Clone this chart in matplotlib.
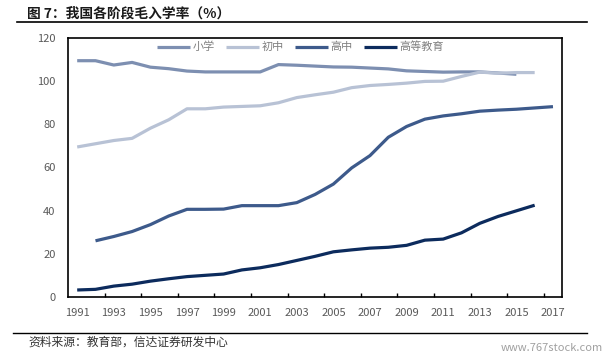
import matplotlib.pyplot as plt

plt.rcParams['font.family'] = ['Noto Sans CJK SC', 'DejaVu Sans']

years = list(range(1991, 2018))

primary = [109.5, 109.5, 107.5, 108.7, 106.5, 105.8, 104.7, 104.3, 104.3, 104.3, 104.3,
           107.7, 107.4, 107.0, 106.6, 106.5, 106.1, 105.7, 104.8, 104.5, 104.2, 104.3,
           104.3, 103.8, 103.2]
junior = [69.5, 71.0, 72.5, 73.5, 78.2, 82.1, 87.2, 87.2, 88.0, 88.3, 88.6, 90.0, 92.4,
          93.7, 94.9, 97.0, 98.0, 98.5, 99.1, 99.9, 100.0, 102.2, 104.2, 103.7, 104.0, 104.0]
senior = [None, 26.0, 28.0, 30.3, 33.5, 37.5, 40.6, 40.6, 40.7, 42.3, 42.3, 42.3, 43.7,
          47.5, 52.3, 59.8, 65.5, 74.0, 79.0, 82.4, 83.9, 84.9, 86.1, 86.6, 87.0, 87.6, 88.2]
higher = [3.2, 3.5, 5.0, 5.9, 7.3, 8.4, 9.4, 10.0, 10.6, 12.5, 13.5, 15.0, 16.9, 18.8,
          20.9, 21.8, 22.6, 23.0, 23.9, 26.3, 26.8, 29.7, 34.1, 37.3, 39.9, 42.5]

series = [('小学', primary, '#7d8fb1'),
          ('初中', junior, '#b8c2d5'),
          ('高中', senior, '#3d5a8b'),
          ('高等教育', higher, '#0c2b5d')]

fig = plt.figure(figsize=(6.13, 3.59), dpi=100)
ax = fig.add_axes([0.111, 0.173, 0.806, 0.721])

for name, vals, color in series:
    xs = [i for i, v in enumerate(vals) if v is not None]
    ys = [v for v in vals if v is not None]
    ax.plot(xs, ys, color=color, linewidth=2.3, label=name, solid_capstyle='butt')

ax.set_xlim(-0.5, len(years) - 0.5)
ax.set_ylim(0, 120)
ax.set_yticks(range(0, 121, 20))
ax.set_xticks(range(0, len(years), 2))
ax.set_xticklabels([str(y) for y in years[::2]])
ax.set_xticks([i + 0.5 for i in range(1, len(years) - 1, 2)], minor=True)
ax.tick_params(axis='x', which='major', length=0, pad=8, labelsize=8, labelcolor='#595959')
ax.tick_params(axis='x', which='minor', length=3, direction='in', width=1)
ax.tick_params(axis='y', length=0, pad=9, labelsize=8, labelcolor='#595959')
for s in ax.spines.values():
    s.set_linewidth(1.2)
    s.set_color('black')

leg = ax.legend(loc='upper center', bbox_to_anchor=(0.47, 1.025), ncol=4, frameon=False,
                fontsize=8, handlelength=3.0, columnspacing=1.0, handletextpad=0.2)
for t in leg.get_texts():
    t.set_color('#808080')

fig.text(0.044, 0.963, '图 7：我国各阶段毛入学率（%）', fontsize=9.9, fontweight='bold',
         color='#1a1a1a', va='center')
fig.add_artist(plt.Line2D([0.028, 0.958], [0.939, 0.939], color='black', linewidth=1.2))
fig.add_artist(plt.Line2D([0.022, 0.958], [0.072, 0.072], color='black', linewidth=1.0))
fig.text(0.046, 0.048, '资料来源：教育部，信达证券研发中心', fontsize=8.5, color='#333333',
         va='center', style='italic')
fig.text(0.983, 0.03, 'www.767stock.com', fontsize=8, color='#a0a0a0', ha='right', va='center')

fig.savefig('out.png', dpi=100)
